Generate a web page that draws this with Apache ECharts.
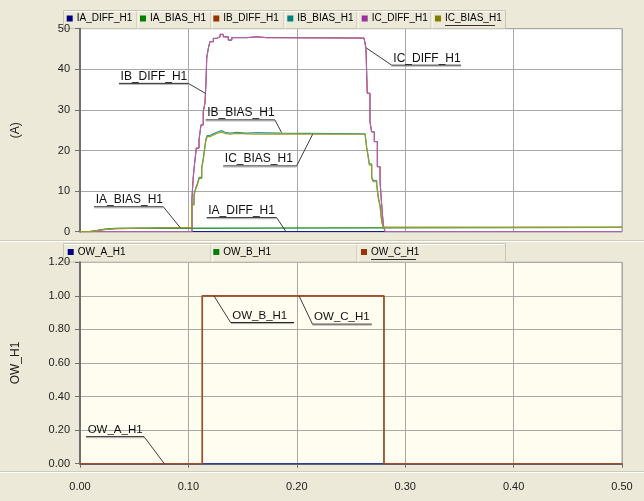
<!DOCTYPE html>
<html>
<head>
<meta charset="utf-8">
<script src="https://cdn.jsdelivr.net/npm/echarts@6/dist/echarts.min.js"></script>
<style>
  html, body { margin: 0; padding: 0; background: #ECE9D8; }
  #chart { width: 644px; height: 501px; }
</style>
</head>
<body>
<div id="chart"></div>
<script>
// Relay record: differential / bias currents (A) and operate flags, time in seconds.
// Each series is a list of [time, value] samples held until the next sample.

const xTicks = [0, 0.1, 0.2, 0.3, 0.4, 0.5];

const iaDiff = [[0, 0], [0.5, 0]];
const iaBias = [[0, 0], [0.0092, 0.3], [0.0154, 0.55], [0.0215, 0.8], [0.0323, 1.05], [0.5, 1.05]];
const ibDiff = [
  [0, 0], [0.1033, 8.3], [0.1045, 13.5], [0.1058, 17.0], [0.1073, 20.6], [0.1098, 22.6],
  [0.1116, 26.3], [0.1137, 29.6], [0.1153, 31.7], [0.1162, 36.6], [0.1169, 42.8], [0.1184, 45.2],
  [0.1199, 46.8], [0.1230, 47.6], [0.1261, 48.0], [0.1292, 48.6], [0.1322, 48.0], [0.1368, 47.2],
  [0.1400, 47.8], [0.1538, 48.0], [0.1630, 47.8], [0.1722, 47.7], [0.2620, 47.7], [0.2638, 45.2],
  [0.2650, 34.1], [0.2675, 27.1], [0.2690, 24.6], [0.2715, 22.2], [0.2743, 16.0], [0.2768, 12.3],
  [0.2783, 6.6], [0.2798, 1.6], [0.2814, 0], [0.5, 0]
];
const ibBias = [
  [0, 0], [0.0092, 0.25], [0.0154, 0.5], [0.0215, 0.75], [0.0323, 1.05], [0.1030, 6.8],
  [0.1052, 9.3], [0.1070, 11.0], [0.1082, 11.8], [0.1100, 13.4], [0.1123, 15.9], [0.1137, 18.0],
  [0.1153, 21.2], [0.1162, 22.9], [0.1174, 23.7], [0.1199, 24.1], [0.1230, 24.5], [0.1261, 24.9],
  [0.1307, 24.5], [0.1338, 24.3], [0.1384, 24.5], [0.1446, 24.3], [0.1538, 24.4], [0.1630, 24.3],
  [0.1845, 24.1], [0.2630, 24.1], [0.2645, 20.7], [0.2660, 18.4], [0.2669, 16.7], [0.2691, 13.4],
  [0.2706, 12.6], [0.2737, 11.8], [0.2752, 8.5], [0.2768, 6.5], [0.2783, 2.8], [0.2798, 1.05], [0.5, 1.05]
];
const icDiff = [
  [0, 0], [0.1033, 8.3], [0.1045, 13.5], [0.1058, 17.0], [0.1073, 20.6], [0.1098, 22.6],
  [0.1116, 26.3], [0.1137, 29.6], [0.1153, 31.7], [0.1162, 36.6], [0.1169, 42.8], [0.1184, 45.2],
  [0.1199, 46.8], [0.1230, 47.6], [0.1261, 48.0], [0.1292, 48.6], [0.1322, 48.0], [0.1368, 47.2],
  [0.1400, 47.8], [0.1538, 48.0], [0.1630, 47.8], [0.1722, 47.7], [0.2620, 47.7], [0.2638, 45.2],
  [0.2650, 34.1], [0.2675, 27.1], [0.2690, 24.6], [0.2715, 22.2], [0.2743, 16.0], [0.2768, 12.3],
  [0.2783, 6.6], [0.2798, 1.6], [0.2814, 0], [0.5, 0]
];
const icBias = [
  [0, 0], [0.0092, 0.25], [0.0154, 0.5], [0.0215, 0.75], [0.0323, 1.05], [0.1030, 6.6],
  [0.1052, 9.0], [0.1070, 10.7], [0.1082, 11.5], [0.1100, 13.1], [0.1123, 15.6], [0.1137, 17.7],
  [0.1153, 20.9], [0.1162, 22.6], [0.1174, 23.4], [0.1199, 23.8], [0.1230, 24.2], [0.1261, 24.5],
  [0.1307, 24.2], [0.1338, 24.0], [0.1384, 24.2], [0.1446, 24.1], [0.1538, 24.0], [0.1630, 24.1],
  [0.1845, 24.0], [0.2630, 24.0], [0.2645, 20.5], [0.2660, 18.1], [0.2669, 16.4], [0.2691, 13.1],
  [0.2706, 12.3], [0.2737, 11.5], [0.2752, 8.2], [0.2768, 6.2], [0.2783, 2.5], [0.2798, 1.05], [0.5, 1.05]
];

const owA = [[0, 0], [0.5, 0]];
const owB = [[0, 0], [0.1128, 1], [0.2804, 0], [0.5, 0]];
const owC = [[0, 0], [0.1128, 1], [0.2804, 0], [0.5, 0]];

const currentNames = ['IA_DIFF_H1', 'IA_BIAS_H1', 'IB_DIFF_H1', 'IB_BIAS_H1', 'IC_DIFF_H1', 'IC_BIAS_H1'];
const currentData = [iaDiff, iaBias, ibDiff, ibBias, icDiff, icBias];
const flagNames = ['OW_A_H1', 'OW_B_H1', 'OW_C_H1'];
const flagData = [owA, owB, owC];

// Callout labels: text, panel, anchor point on a trace [time, value]
const calloutText = ['IB_DIFF_H1', 'IC_DIFF_H1', 'IB_BIAS_H1', 'IC_BIAS_H1', 'IA_DIFF_H1', 'IA_BIAS_H1',
                     'OW_A_H1', 'OW_B_H1', 'OW_C_H1'];
const calloutPanel = [0, 0, 0, 0, 0, 0, 1, 1, 1];
const calloutAnchor = [[0.1162, 34.0], [0.2645, 45.2], [0.186, 24.4], [0.2146, 24.0], [0.19, 0],
                       [0.0923, 1.05], [0.0778, 0], [0.1236, 1], [0.2021, 1]];

// ---- styling / layout ----
const FONT = '"Liberation Sans", Arial, sans-serif';
const iconColors = ['#000080', '#008000', '#993300', '#008080', '#993399', '#808000'];
const lineColors = ['#1a1a8c', '#108a10', '#993300', '#2a9a9a', '#b060b0', '#9c9c22'];
const lineWidths = [1.3, 1.2, 1, 1.2, 1.2, 1.2];
const flagIcon = ['#000080', '#008000', '#993300'];
const flagLine = ['#2d3f9a', '#108a10', '#a84a2c'];
const flagWidths = [1.5, 1, 1.6];

// callout geometry in px: joint offset from anchor, underline length, direction
const calloutGeom = [
  { dx: -17.7, dy: -10.3, len: 69.3, dir: -1 },
  { dx: 25.0, dy: 17.0, len: 69.3, dir: 1 },
  { dx: -6.7, dy: -12.7, len: 69.3, dir: -1 },
  { dx: -16.0, dy: 31.7, len: 73.4, dir: -1 },
  { dx: -9.3, dy: -14.0, len: 70.0, dir: -1 },
  { dx: -16.7, dy: -20.6, len: 69.3, dir: -1 },
  { dx: -20.3, dy: -27.0, len: 58.0, dir: -1 },
  { dx: 16.7, dy: 26.7, len: 63.3, dir: 1 },
  { dx: 13.4, dy: 28.3, len: 59.3, dir: 1 }
];

const chart = echarts.init(document.getElementById('chart'), null, { renderer: 'canvas' });

const grids = [
  { left: 80, right: 22, top: 28.7, height: 203, show: true, backgroundColor: '#ffffff',
    borderColor: '#a0a0a0', borderWidth: 1 },
  { left: 80, right: 22, top: 262.3, height: 201.4, show: true, backgroundColor: '#fffcf0',
    borderColor: '#a0a0a0', borderWidth: 1 }
];

const splitStyle = { show: true, lineStyle: { color: '#a8a8a8', width: 1 } };

const xAxes = [
  { type: 'value', gridIndex: 0, min: xTicks[0], max: xTicks[xTicks.length - 1], interval: 0.1,
    axisLine: { show: false }, axisTick: { show: false }, axisLabel: { show: false },
    splitLine: splitStyle },
  { type: 'value', gridIndex: 1, min: xTicks[0], max: xTicks[xTicks.length - 1], interval: 0.1,
    offset: 11.3,
    axisLine: { show: true, lineStyle: { color: '#6e6e6e', width: 2 } },
    axisTick: { show: true, length: 4, lineStyle: { color: '#6e6e6e' } },
    axisLabel: { margin: 6, color: '#222', fontSize: 11, fontFamily: FONT,
                 formatter: v => v.toFixed(2) },
    splitLine: splitStyle }
];

const yAxes = [
  { type: 'value', gridIndex: 0, min: 0, max: 50, interval: 10,
    name: '(A)', nameLocation: 'middle', nameRotate: 90, nameGap: 58,
    nameTextStyle: { fontSize: 12, color: '#222', fontFamily: FONT },
    axisLine: { show: true, lineStyle: { color: '#6e6e6e', width: 2 } },
    axisTick: { show: true, length: 5, lineStyle: { color: '#6e6e6e' } },
    axisLabel: { margin: 10, color: '#222', fontSize: 11, fontFamily: FONT },
    splitLine: splitStyle },
  { type: 'value', gridIndex: 1, min: 0, max: 1.2, interval: 0.2,
    name: 'OW_H1', nameLocation: 'middle', nameRotate: 90, nameGap: 58,
    nameTextStyle: { fontSize: 12, color: '#222', fontFamily: FONT },
    axisLine: { show: true, lineStyle: { color: '#6e6e6e', width: 2 } },
    axisTick: { show: true, length: 5, lineStyle: { color: '#6e6e6e' } },
    axisLabel: { margin: 10, color: '#222', fontSize: 11, fontFamily: FONT,
                 formatter: v => v.toFixed(2) },
    splitLine: splitStyle }
];

const series = [];
currentNames.forEach((name, i) => {
  series.push({
    name, type: 'line', xAxisIndex: 0, yAxisIndex: 0, data: currentData[i],
    step: 'end', symbol: 'none', animation: false,
    itemStyle: { color: iconColors[i] },
    lineStyle: { color: lineColors[i], width: lineWidths[i] }
  });
});
flagNames.forEach((name, i) => {
  series.push({
    name, type: 'line', xAxisIndex: 1, yAxisIndex: 1, data: flagData[i],
    step: 'end', symbol: 'none', animation: false,
    itemStyle: { color: flagIcon[i] },
    lineStyle: { color: flagLine[i], width: flagWidths[i] }
  });
});

// one legend component per cell so every entry sits in its own box
const topIconX = [66.7, 140, 213.3, 287.3, 361.7, 435];
const botIconX = [67.7, 213.3, 361];
const legendBase = {
  orient: 'horizontal', padding: 0, itemWidth: 6, itemHeight: 6, icon: 'rect',
  itemGap: 0, selectedMode: false,
  textStyle: { fontSize: 10, color: '#000', fontFamily: FONT, lineHeight: 12, padding: [0, 0, 0, -1] }
};
const legends = [];
currentNames.forEach((n, i) => legends.push(Object.assign({}, legendBase, { data: [n], left: topIconX[i], top: 12.5 })));
flagNames.forEach((n, i) => legends.push(Object.assign({}, legendBase, { data: [n], left: botIconX[i], top: 246 })));

chart.setOption({
  backgroundColor: '#ECE9D8',
  animation: false,
  grid: grids,
  xAxis: xAxes,
  yAxis: yAxes,
  legend: legends,
  series
});

// ---- decorations: legend cell frames, panel separators, callouts ----
const g = [];
function hline(x1, x2, y, color, w) {
  g.push({ type: 'line', silent: true, z: 1, shape: { x1, y1: y, x2, y2: y },
           style: { stroke: color, lineWidth: w || 1 } });
}
function vline(x, y1, y2, color) {
  g.push({ type: 'line', silent: true, z: 1, shape: { x1: x, y1, x2: x, y2 },
           style: { stroke: color, lineWidth: 1 } });
}

// legend strips
function legendStrip(x0, y0, x1, y1, dividers) {
  g.push({ type: 'rect', silent: true, z: 0, shape: { x: x0, y: y0, width: x1 - x0, height: y1 - y0 },
           style: { fill: '#ECE9D8', stroke: '#c9c5b2', lineWidth: 1 } });
  hline(x0 + 1, x1 - 1, y0 + 1, '#ffffff');
  dividers.forEach(x => { vline(x, y0 + 1, y1, '#c2beab'); vline(x + 1, y0 + 1, y1, '#ffffff'); });
}
legendStrip(63.5, 10.5, 505.5, 28.5, [137, 211, 284, 357, 431]);
legendStrip(63.5, 243.5, 505.5, 262, [211, 357]);
// focus underline on the active entries
hline(445, 495, 25.5, '#333333');
hline(371, 416, 259.5, '#333333');

// panel separators
hline(0, 644, 240.5, '#cfcbbb');
hline(0, 644, 241.5, '#ffffff');
hline(0, 644, 471.5, '#cfcbbb');
hline(0, 644, 472.5, '#ffffff');

calloutText.forEach((txt, i) => {
  const p = chart.convertToPixel({ gridIndex: calloutPanel[i] }, calloutAnchor[i]);
  const geo = calloutGeom[i];
  const jx = p[0] + geo.dx, jy = p[1] + geo.dy;
  const ex = jx + geo.dir * geo.len;
  const left = Math.min(jx, ex), right = Math.max(jx, ex);
  g.push({ type: 'line', silent: true, z: 10, shape: { x1: p[0], y1: p[1], x2: jx, y2: jy },
           style: { stroke: '#3c3c3c', lineWidth: 1 } });
  g.push({ type: 'line', silent: true, z: 10, shape: { x1: left, y1: jy, x2: right, y2: jy },
           style: { stroke: '#1a1a1a', lineWidth: 1 } });
  g.push({ type: 'line', silent: true, z: 10, shape: { x1: left, y1: jy + 1, x2: right, y2: jy + 1 },
           style: { stroke: '#b0b0b0', lineWidth: 1 } });
  g.push({ type: 'text', silent: true, z: 10, x: left + 1.6, y: jy - 1,
           style: { text: txt, fill: '#111', font: (calloutPanel[i] === 0 ? '12px ' : '11.5px ') + FONT,
                    align: 'left', verticalAlign: 'bottom' } });
});

chart.setOption({ graphic: { elements: g } });
</script>
</body>
</html>
